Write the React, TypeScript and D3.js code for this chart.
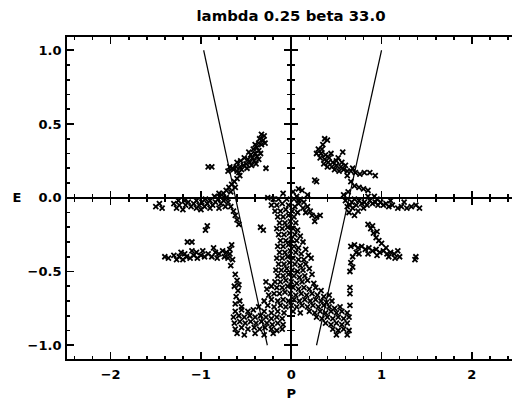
import React from 'react';
import * as d3 from 'd3';

const title = 'lambda 0.25 beta 33.0';
const xLabel = 'P';
const yLabel = 'E';
const xTickLabels = ['−2', '−1', '0', '1', '2'];
const xTickValues = [-2, -1, 0, 1, 2];
const yTickLabels = ['−1.0', '−0.5', '0.0', '0.5', '1.0'];
const yTickValues = [-1, -0.5, 0, 0.5, 1];

// the two straight boundary lines, [P, E] end points
const leftBoundary: [number, number][] = [[-0.97, 1.0], [-0.265, -1.0]];
const rightBoundary: [number, number][] = [[1.0, 1.0], [0.28, -1.0]];

// scatter points [P, E], grouped by the clusters seen in the plot
const upperLeftArm: [number, number][] = [
  [-0.33, 0.43], [-0.30, 0.42], [-0.35, 0.40], [-0.31, 0.39], [-0.36, 0.37], [-0.33, 0.36], [-0.29, 0.37],
  [-0.38, 0.34], [-0.42, 0.33], [-0.36, 0.32], [-0.40, 0.30], [-0.45, 0.29], [-0.38, 0.28], [-0.43, 0.27],
  [-0.48, 0.26], [-0.41, 0.25], [-0.36, 0.26], [-0.46, 0.24], [-0.50, 0.23], [-0.44, 0.22], [-0.39, 0.23],
  [-0.53, 0.22], [-0.57, 0.21], [-0.61, 0.21], [-0.65, 0.20], [-0.68, 0.21], [-0.49, 0.20], [-0.55, 0.19],
  [-0.60, 0.18], [-0.64, 0.19], [-0.88, 0.21], [-0.92, 0.21], [-0.28, 0.20],
  [-0.40, 0.36], [-0.34, 0.30], [-0.47, 0.31], [-0.52, 0.27], [-0.56, 0.25], [-0.60, 0.24], [-0.70, 0.18], [-0.58, 0.17],
  [-0.57, 0.15], [-0.60, 0.13], [-0.63, 0.11], [-0.66, 0.09], [-0.69, 0.07], [-0.72, 0.05], [-0.75, 0.03],
  [-0.62, 0.07], [-0.67, 0.04],
];

const leftZeroBand: [number, number][] = [
  [-1.50, -0.06], [-1.46, -0.04], [-1.43, -0.07], [-1.30, -0.04], [-1.27, -0.07], [-1.24, -0.05], [-1.20, -0.08],
  [-1.17, -0.05], [-1.14, -0.03], [-1.11, -0.06], [-1.08, -0.04], [-1.05, -0.07], [-1.02, -0.05], [-0.99, -0.03],
  [-0.96, -0.06], [-0.93, -0.04], [-0.90, -0.02], [-0.87, -0.05], [-0.84, -0.03], [-0.81, -0.01], [-0.78, -0.04],
  [-0.75, -0.02], [-0.72, 0.00], [-0.70, -0.03], [-0.67, -0.06], [-0.64, -0.09], [-0.62, -0.12], [-0.60, -0.15],
  [-0.58, -0.18], [-0.85, 0.01], [-0.80, 0.03], [-0.77, 0.02], [-0.95, -0.01],
  [-1.25, -0.02], [-1.18, -0.02], [-1.05, -0.02], [-1.00, -0.08], [-0.90, -0.07], [-0.80, -0.07], [-0.73, -0.06],
];

const leftLowerArm: [number, number][] = [
  [-1.40, -0.40], [-1.36, -0.41], [-1.30, -0.39], [-1.27, -0.42], [-1.24, -0.40], [-1.20, -0.42], [-1.16, -0.40],
  [-1.12, -0.41], [-1.08, -0.39], [-1.04, -0.41], [-1.00, -0.39], [-0.96, -0.40], [-0.92, -0.38], [-0.88, -0.40],
  [-0.84, -0.37], [-0.80, -0.38], [-0.76, -0.36], [-0.72, -0.37], [-0.68, -0.35], [-1.22, -0.37], [-1.10, -0.36],
  [-0.98, -0.36], [-0.86, -0.34], [-1.15, -0.30], [-1.10, -0.30], [-0.95, -0.22], [-0.93, -0.19],
  [-1.18, -0.38], [-1.05, -0.37], [-0.82, -0.41], [-0.74, -0.40], [-0.70, -0.41],
  [-0.66, -0.32], [-0.68, -0.38], [-0.65, -0.42], [-0.67, -0.46],
  [-0.62, -0.52], [-0.60, -0.56], [-0.63, -0.60], [-0.59, -0.63], [-0.61, -0.67], [-0.57, -0.70], [-0.62, -0.72],
  [-0.55, -0.74], [-0.58, -0.59],
];

const centralColumn: [number, number][] = [
  [-0.09, 0.03], [0.02, 0.04],
  [-0.26, 0.00], [-0.20, -0.01], [-0.14, -0.01], [-0.05, -0.01], [0.03, -0.01], [0.08, -0.02],
  [-0.22, -0.05], [-0.16, -0.05], [-0.10, -0.04], [-0.03, -0.05], [0.04, -0.06],
  [-0.18, -0.09], [-0.12, -0.09], [-0.06, -0.08], [0.01, -0.09], [0.07, -0.10],
  [-0.15, -0.13], [-0.09, -0.13], [-0.03, -0.12], [0.03, -0.13],
  [-0.13, -0.17], [-0.07, -0.17], [-0.01, -0.16], [0.05, -0.17],
  [-0.34, -0.20], [-0.31, -0.22], [-0.16, -0.21], [-0.10, -0.21], [-0.04, -0.20], [0.02, -0.21], [0.07, -0.22],
  [-0.14, -0.25], [-0.08, -0.25], [-0.02, -0.24], [0.04, -0.25], [0.10, -0.26],
  [-0.12, -0.29], [-0.06, -0.29], [0.00, -0.28], [0.06, -0.29], [0.13, -0.30],
  [-0.15, -0.33], [-0.09, -0.33], [-0.03, -0.32], [0.03, -0.33], [0.08, -0.34], [0.16, -0.35],
  [-0.13, -0.37], [-0.07, -0.37], [-0.01, -0.36], [0.05, -0.37], [0.11, -0.38], [0.19, -0.39],
  [-0.16, -0.41], [-0.10, -0.41], [-0.04, -0.40], [0.02, -0.41], [0.08, -0.42], [0.14, -0.42], [0.22, -0.41],
  [-0.14, -0.45], [-0.08, -0.45], [-0.02, -0.44], [0.04, -0.45], [0.10, -0.46], [0.16, -0.45],
  [-0.17, -0.49], [-0.11, -0.49], [-0.05, -0.48], [0.01, -0.49], [0.07, -0.50], [0.13, -0.49], [0.20, -0.48],
  [-0.15, -0.53], [-0.09, -0.53], [-0.03, -0.52], [0.03, -0.53], [0.09, -0.54], [0.15, -0.53], [0.23, -0.52],
  [-0.28, -0.57], [-0.18, -0.57], [-0.12, -0.57], [-0.06, -0.56], [0.00, -0.57], [0.06, -0.58], [0.12, -0.57],
  [0.18, -0.56], [0.25, -0.58],
  [-0.27, -0.62], [-0.22, -0.60], [-0.16, -0.61], [-0.10, -0.61], [-0.04, -0.60], [0.02, -0.61], [0.08, -0.62],
  [0.14, -0.61], [0.20, -0.62], [0.27, -0.61], [0.33, -0.63],
  [-0.25, -0.66], [-0.19, -0.65], [-0.13, -0.65], [-0.07, -0.64], [-0.01, -0.65], [0.05, -0.66], [0.11, -0.65],
  [0.17, -0.66], [0.23, -0.65], [0.29, -0.66], [0.36, -0.67], [0.42, -0.66],
];

const bottomBlob: [number, number][] = [
  [-0.30, -0.70], [-0.22, -0.69], [-0.15, -0.70], [-0.09, -0.69], [-0.03, -0.70], [0.03, -0.69], [0.09, -0.70],
  [0.15, -0.69], [0.21, -0.70], [0.27, -0.69], [0.33, -0.70], [0.39, -0.71], [0.45, -0.70],
  [-0.36, -0.74], [-0.26, -0.73], [-0.19, -0.74], [-0.12, -0.73], [-0.06, -0.74], [0.00, -0.73], [0.06, -0.74],
  [0.12, -0.73], [0.18, -0.74], [0.24, -0.73], [0.30, -0.74], [0.36, -0.73], [0.42, -0.74], [0.48, -0.75], [0.54, -0.74],
  [-0.62, -0.77], [-0.55, -0.76], [-0.48, -0.77], [-0.42, -0.76], [-0.30, -0.77], [-0.22, -0.78], [-0.15, -0.77],
  [-0.08, -0.78], [0.02, -0.77], [0.10, -0.78], [0.20, -0.77], [0.26, -0.78], [0.32, -0.77], [0.38, -0.78],
  [0.44, -0.77], [0.50, -0.78], [0.56, -0.77], [0.62, -0.78],
  [-0.64, -0.81], [-0.58, -0.80], [-0.52, -0.81], [-0.46, -0.80], [-0.40, -0.81], [-0.34, -0.80], [-0.28, -0.81],
  [-0.22, -0.82], [-0.16, -0.81], [-0.10, -0.82], [0.28, -0.81], [0.34, -0.82], [0.40, -0.81], [0.46, -0.82],
  [0.52, -0.81], [0.58, -0.82], [0.64, -0.81],
  [-0.63, -0.85], [-0.57, -0.84], [-0.51, -0.85], [-0.45, -0.84], [-0.39, -0.85], [-0.33, -0.84], [-0.27, -0.85],
  [-0.21, -0.86], [-0.15, -0.85], [-0.09, -0.86], [0.38, -0.85], [0.44, -0.86], [0.50, -0.85], [0.56, -0.86], [0.62, -0.85],
  [-0.62, -0.89], [-0.55, -0.88], [-0.48, -0.89], [-0.41, -0.88], [-0.35, -0.89], [-0.29, -0.88], [-0.22, -0.89],
  [-0.16, -0.90], [-0.10, -0.89], [0.46, -0.89], [0.52, -0.90], [0.58, -0.89], [0.64, -0.90],
  [-0.60, -0.92], [-0.52, -0.93], [-0.40, -0.92], [-0.30, -0.93], [-0.20, -0.92], [0.50, -0.93], [0.62, -0.93],
];

const upperRightArm: [number, number][] = [
  [0.37, 0.40], [0.40, 0.39], [0.57, 0.31],
  [0.30, 0.33], [0.34, 0.33], [0.28, 0.30], [0.33, 0.30], [0.38, 0.29], [0.32, 0.27], [0.37, 0.26], [0.42, 0.27],
  [0.36, 0.23], [0.41, 0.24], [0.46, 0.24], [0.40, 0.21], [0.45, 0.21], [0.50, 0.22], [0.55, 0.21], [0.48, 0.19],
  [0.53, 0.18], [0.58, 0.19], [0.62, 0.18], [0.66, 0.18], [0.71, 0.17], [0.76, 0.16], [0.50, 0.25], [0.56, 0.24],
  [0.44, 0.30], [0.35, 0.36], [0.52, 0.27], [0.60, 0.22], [0.68, 0.20], [0.62, 0.15],
  [0.81, 0.17], [0.87, 0.17], [0.93, 0.15],
  [0.26, 0.12], [0.28, 0.11],
  [0.66, 0.11], [0.70, 0.08], [0.75, 0.07], [0.80, 0.06], [0.85, 0.05],
];

const rightZeroBand: [number, number][] = [
  [0.58, 0.02], [0.60, -0.02], [0.62, -0.06], [0.64, -0.10], [0.63, 0.04], [0.67, -0.03], [0.70, -0.01],
  [0.68, -0.07], [0.72, -0.05], [0.75, -0.02], [0.78, -0.04], [0.81, -0.03], [0.84, -0.05], [0.87, -0.02],
  [0.90, -0.04], [0.93, -0.03], [0.96, -0.05], [0.99, -0.03], [1.02, -0.05], [1.05, -0.04], [1.08, -0.06],
  [1.12, -0.05], [1.18, -0.07], [1.22, -0.06], [1.28, -0.07], [1.33, -0.06], [1.42, -0.07], [0.85, 0.01],
  [0.92, 0.01], [0.74, -0.09], [0.70, -0.12],
  [0.65, -0.05], [0.80, -0.07], [0.95, -0.01], [1.10, -0.02], [1.25, -0.03], [1.38, -0.05],
];

const nearZeroRight: [number, number][] = [
  [0.08, 0.06], [0.12, 0.05], [0.18, 0.02], [0.06, 0.01], [0.10, -0.01], [0.14, -0.03], [0.08, -0.04],
  [0.13, -0.07], [0.18, -0.06], [0.21, -0.09], [0.16, -0.10], [0.23, -0.12], [0.28, -0.13], [0.32, -0.12],
  [0.26, -0.16],
];

const rightLowerArm: [number, number][] = [
  [0.85, -0.18], [0.88, -0.21], [0.91, -0.24], [0.94, -0.27], [0.97, -0.29], [1.00, -0.31], [0.90, -0.19], [0.95, -0.23],
  [0.66, -0.33], [0.70, -0.32], [0.74, -0.34], [0.78, -0.33], [0.82, -0.35], [0.86, -0.34], [0.90, -0.36],
  [0.94, -0.35], [0.98, -0.37], [1.02, -0.36], [1.06, -0.38], [1.10, -0.37], [1.14, -0.38], [1.18, -0.36],
  [1.20, -0.40], [1.15, -0.41], [1.08, -0.40], [0.72, -0.37], [0.68, -0.40], [0.66, -0.44], [0.68, -0.47],
  [0.75, -0.38], [0.85, -0.38], [0.95, -0.39], [1.05, -0.34],
  [0.65, -0.50], [1.38, -0.40], [1.37, -0.42],
  [0.65, -0.61], [0.65, -0.65], [0.65, -0.73],
];

const allPoints = [
  ...upperLeftArm, ...leftZeroBand, ...leftLowerArm, ...centralColumn, ...bottomBlob,
  ...upperRightArm, ...rightZeroBand, ...nearZeroRight, ...rightLowerArm,
];

const W = 512;
const H = 400;
const font = '"DejaVu Sans", sans-serif';

export default function App() {
  const x = d3.scaleLinear().domain([-2.5, 2.5]).range([65.5, 517]);
  const y = d3.scaleLinear().domain([-1.1, 1.1]).range([360, 35.5]);

  const xMinor = d3.ticks(-2.5, 2.5, 25);
  const yMinor = d3.ticks(-1.1, 1.1, 22);
  const isMajorX = (v: number) => Math.abs(v - Math.round(v)) < 1e-6;
  const isMajorY = (v: number) => Math.abs(v * 2 - Math.round(v * 2)) < 1e-6;

  const [x0, x1] = x.range();
  const [yb, yt] = y.range();
  const line = d3.line<[number, number]>().x(d => x(d[0])).y(d => y(d[1]));
  const mk = 2.5;

  return (
    <svg width={W} height={H} style={{ position: 'absolute', left: 0, top: 0, background: '#fff' }}>
      <defs>
        <clipPath id="plot">
          <rect x={x0} y={yt} width={x1 - x0} height={yb - yt} />
        </clipPath>
      </defs>
      <text x={291} y={21} textAnchor="middle" fontFamily={font} fontWeight="bold" fontSize={14}
        textLength={189} lengthAdjust="spacingAndGlyphs">{title}</text>

      <g clipPath="url(#plot)">
        {allPoints.map((d, i) => (
          <path key={i} transform={`translate(${x(d[0])},${y(d[1])})`}
            d={`M${-mk},${-mk}L${mk},${mk}M${-mk},${mk}L${mk},${-mk}`}
            stroke="#000" strokeWidth={1.8} fill="none" />
        ))}
        <path d={line(leftBoundary) || ''} stroke="#000" strokeWidth={1.2} fill="none" />
        <path d={line(rightBoundary) || ''} stroke="#000" strokeWidth={1.2} fill="none" />
      </g>

      <g stroke="#000" shapeRendering="crispEdges">
        {/* frame */}
        <rect x={x0} y={yt} width={x1 - x0} height={yb - yt} fill="none" strokeWidth={2} />
        {/* zero axes */}
        <line x1={x0} x2={x1} y1={y(0)} y2={y(0)} strokeWidth={2} />
        <line x1={x(0)} x2={x(0)} y1={yt} y2={yb} strokeWidth={2} />
        {xMinor.map(v => {
          const len = isMajorX(v) ? 8 : 4;
          const zl = isMajorX(v) ? 7 : 4;
          return (
            <g key={'x' + v} strokeWidth={1.6}>
              <line x1={x(v)} x2={x(v)} y1={yb} y2={yb - len} />
              <line x1={x(v)} x2={x(v)} y1={yt} y2={yt + len} />
              <line x1={x(v)} x2={x(v)} y1={y(0) - zl} y2={y(0) + zl} />
            </g>
          );
        })}
        {yMinor.map(v => {
          const len = isMajorY(v) ? 8 : 4;
          const zl = isMajorY(v) ? 7 : 4;
          return (
            <g key={'y' + v} strokeWidth={1.6}>
              <line x1={x0} x2={x0 + len} y1={y(v)} y2={y(v)} />
              <line x1={x(0) - zl} x2={x(0) + zl} y1={y(v)} y2={y(v)} />
            </g>
          );
        })}
      </g>

      <g fontFamily={font} fontWeight="bold" fontSize={13} fill="#000">
        {yTickValues.map((v, i) => (
          <text key={v} x={x0 - 4} y={y(v)} dy="0.36em" textAnchor="end">{yTickLabels[i]}</text>
        ))}
        {xTickValues.map((v, i) => (
          <text key={v} x={x(v)} y={379} textAnchor="middle">{xTickLabels[i]}</text>
        ))}
        <text x={x(0)} y={398} textAnchor="middle">{xLabel}</text>
        <text x={17} y={y(0)} dy="0.36em" textAnchor="middle">{yLabel}</text>
      </g>
    </svg>
  );
}
